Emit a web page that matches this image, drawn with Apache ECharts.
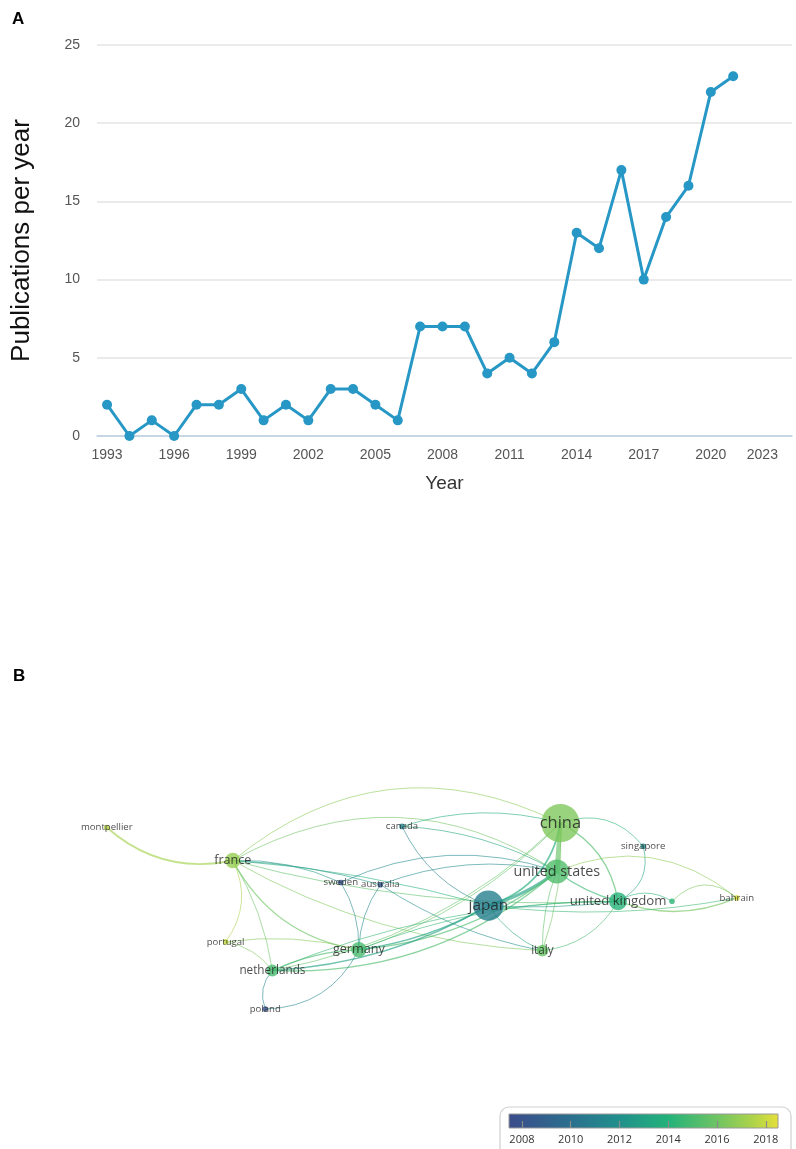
<!DOCTYPE html>
<html>
<head>
<meta charset="utf-8">
<script src="https://cdn.jsdelivr.net/npm/echarts@6/dist/echarts.min.js"></script>
<style>
  html, body { margin: 0; padding: 0; background: #ffffff; }
  #main { width: 796px; height: 1149px; }
</style>
</head>
<body>
<div id="main"></div>
<script>
// ---- Panel A: publications per year ----
const years = [1993, 1994, 1995, 1996, 1997, 1998, 1999, 2000, 2001, 2002, 2003, 2004, 2005, 2006, 2007,
               2008, 2009, 2010, 2011, 2012, 2013, 2014, 2015, 2016, 2017, 2018, 2019, 2020, 2021];
const publications = [2, 0, 1, 0, 2, 2, 3, 1, 2, 1, 3, 3, 2, 1, 7,
                      7, 7, 4, 5, 4, 6, 13, 12, 17, 10, 14, 16, 22, 23];
const yearTicks = [1993, 1996, 1999, 2002, 2005, 2008, 2011, 2014, 2017, 2020, 2023];

// ---- Panel B: country co-authorship network ----
const countries = ['montpellier', 'france', 'canada', 'china', 'singapore', 'united states', 'sweden',
                   'australia', 'japan', 'united kingdom', '', 'bahrain', 'portugal', 'germany',
                   'netherlands', 'italy', 'poland'];
const countryX = [-0.87, -0.52, -0.05, 0.39, 0.62, 0.38, -0.22, -0.11, 0.19, 0.55, 0.70, 0.88, -0.54, -0.17, -0.41, 0.34, -0.43];
const countryY = [0.75, 0.45, 0.76, 0.79, 0.58, 0.35, 0.25, 0.23, 0.04, 0.08, 0.08, 0.11, -0.29, -0.36, -0.55, -0.37, -0.90];
const countryDocs = [3, 14, 3, 40, 3, 24, 3, 3, 31, 17, 3, 3, 3, 14, 10, 10, 3];
const countryAvgYear = [2017.6, 2016.9, 2011.2, 2016.4, 2011.8, 2015.2, 2008.0, 2008.2, 2011.0, 2014.1, 2014.3, 2018.3, 2017.9, 2015.0, 2015.0, 2015.8, 2008.0];

const linkSource = ['montpellier', 'france', 'france', 'france', 'france', 'france', 'france', 'france', 'france', 'france', 'france',
                    'canada', 'canada', 'canada', 'sweden', 'australia', 'sweden', 'australia', 'australia',
                    'china', 'china', 'china', 'china', 'singapore', 'china', 'china', 'china',
                    'united states', 'united states', 'united states', 'united states', 'united states', 'united states',
                    'united kingdom', 'united kingdom', 'united kingdom', 'united kingdom', 'united kingdom', 'united kingdom', '',
                    'japan', 'japan', 'japan', 'japan', 'germany', 'netherlands', 'germany', 'portugal', 'portugal'];
const linkTarget = ['france', 'china', 'united states', 'japan', 'united kingdom', 'germany', 'netherlands', 'portugal', 'sweden', 'australia', 'italy',
                    'china', 'united states', 'japan', 'united states', 'united states', 'germany', 'germany', 'italy',
                    'united states', 'japan', 'united kingdom', 'singapore', 'united kingdom', 'germany', 'netherlands', 'italy',
                    'japan', 'united kingdom', 'bahrain', 'germany', 'netherlands', 'italy',
                    'bahrain', '', 'italy', 'germany', 'netherlands', 'japan', 'bahrain',
                    'germany', 'netherlands', 'italy', 'bahrain', 'netherlands', 'poland', 'poland', 'netherlands', 'germany'];
const linkStrength = [2, 1, 1, 1, 1, 1.5, 1, 1, 1, 1, 1,
                      1, 1, 1, 1, 1, 1, 1, 1,
                      5, 2, 1.5, 1, 1, 1, 1, 1,
                      3.5, 1.5, 1, 1.5, 1.5, 1,
                      1.5, 1, 1, 1, 1, 1, 1,
                      1.5, 1.5, 1, 1, 1.5, 1, 1, 1, 1];
const yearLegendTicks = [2008, 2010, 2012, 2014, 2016, 2018];

// how far each link bows away from a straight line
const linkBend = [-0.25, 0.32, 0.3, 0.05, -0.08, -0.25, 0.1, 0.3, 0.12, 0.06, -0.12,
                  0.15, 0.12, -0.2, 0.2, 0.15, 0.15, -0.15, -0.1,
                  0, 0.3, 0.25, 0.35, 0.4, 0.12, 0.15, 0.1,
                  0.1, -0.1, 0.3, 0.15, 0.2, -0.1,
                  -0.2, 0.3, 0.25, -0.1, -0.1, 0.05, 0.45,
                  0.1, 0.12, -0.15, -0.08, -0.1, -0.3, 0.3, 0.2, 0.1];

// viridis-like overlay colour scale
const scaleStops = [[2007.5, [59, 76, 139]], [2010, [43, 111, 142]], [2012, [33, 144, 140]],
                    [2014, [35, 178, 122]], [2016, [111, 196, 99]], [2017.5, [176, 212, 73]], [2018.5, [230, 224, 58]]];
function yearColor(y) {
  if (y <= scaleStops[0][0]) return 'rgb(' + scaleStops[0][1].join(',') + ')';
  for (let i = 1; i < scaleStops.length; i++) {
    if (y <= scaleStops[i][0]) {
      const a = scaleStops[i - 1], b = scaleStops[i];
      const t = (y - a[0]) / (b[0] - a[0]);
      const c = a[1].map((v, k) => Math.round(v + (b[1][k] - v) * t));
      return 'rgb(' + c.join(',') + ')';
    }
  }
  return 'rgb(' + scaleStops[scaleStops.length - 1][1].join(',') + ')';
}

const FONT = '"Liberation Sans", Arial, Helvetica, sans-serif';
const NET_FONT = '"Open Sans", "Noto Sans", sans-serif';

const nodes = countries.map((name, i) => ({
  name: name,
  value: [countryX[i], countryY[i]],
  symbolSize: 3 + countryDocs[i] * 0.88,
  itemStyle: { color: yearColor(countryAvgYear[i]), opacity: 0.8 },
  label: { show: name !== '', fontSize: 7 + Math.sqrt(countryDocs[i]) * 1.5 }
}));

const links = linkSource.map((s, i) => {
  const a = countries.indexOf(s), b = countries.indexOf(linkTarget[i]);
  return {
    source: a,
    target: b,
    lineStyle: {
      color: yearColor((countryAvgYear[a] + countryAvgYear[b]) / 2),
      width: linkStrength[i] * 0.9,
      curveness: linkBend[i],
      opacity: 0.65
    }
  };
});

const chart = echarts.init(document.getElementById('main'), null, { renderer: 'canvas' });

chart.setOption({
  backgroundColor: '#ffffff',
  animation: false,
  graphic: [
    { type: 'text', left: 12, top: 11, style: { text: 'A', font: 'bold 17px ' + FONT, fill: '#000' } },
    { type: 'text', left: 13, top: 668, style: { text: 'B', font: 'bold 17px ' + FONT, fill: '#000' } },
    { type: 'rect', shape: { x: 500, y: 1107, width: 291, height: 60, r: 9 },
      style: { fill: 'none', stroke: '#cfcfcf', lineWidth: 1.2 } }
  ],
  grid: [
    { left: 97, top: 45, width: 695, height: 391, containLabel: false, outerBoundsMode: 'none' },
    { left: 60, top: 800, width: 720, height: 220, containLabel: false, outerBoundsMode: 'none' },
    { left: 509, top: 1114, width: 269, height: 14, containLabel: false, outerBoundsMode: 'none' }
  ],
  xAxis: [
    {
      gridIndex: 0, type: 'value', min: 1992.55, max: 2023.63,
      name: 'Year', nameLocation: 'middle', nameGap: 38,
      nameTextStyle: { fontSize: 19, color: '#333', fontFamily: FONT },
      axisLine: { show: true, lineStyle: { color: '#bccfe2', width: 1.5 } },
      axisTick: { show: false },
      splitLine: { show: false },
      axisLabel: { customValues: yearTicks, formatter: v => String(v), alignMaxLabel: 'right',
                   fontSize: 14, color: '#555', fontFamily: FONT, margin: 12 }
    },
    { gridIndex: 1, type: 'value', min: -1, max: 1, show: false },
    {
      gridIndex: 2, type: 'value', min: 2007.47, max: 2018.5, z: 10,
      axisLine: { show: false },
      axisTick: { show: true, inside: true, length: 7, customValues: yearLegendTicks,
                  lineStyle: { color: '#8a8a8a', width: 1.2 } },
      axisLabel: { customValues: yearLegendTicks, formatter: v => String(v),
                   fontSize: 11, color: '#333', fontFamily: NET_FONT, margin: 6 },
      splitLine: { show: false }
    }
  ],
  yAxis: [
    {
      gridIndex: 0, type: 'value', min: 0, max: 25, interval: 5,
      name: 'Publications per year', nameLocation: 'middle', nameGap: 62,
      nameTextStyle: { fontSize: 26, color: '#111', fontFamily: FONT },
      axisLine: { show: false },
      axisTick: { show: false },
      axisLabel: { fontSize: 14, color: '#555', fontFamily: FONT, margin: 17 },
      splitLine: { show: true, lineStyle: { color: '#e4e4e4', width: 1.5 } }
    },
    { gridIndex: 1, type: 'value', min: -1, max: 1, show: false },
    { gridIndex: 2, type: 'value', min: 0, max: 1, show: false }
  ],
  series: [
    {
      type: 'line', xAxisIndex: 0, yAxisIndex: 0,
      data: years.map((y, i) => [y, publications[i]]),
      symbol: 'circle', symbolSize: 10,
      lineStyle: { color: '#2797c5', width: 3 },
      itemStyle: { color: '#2797c5' }
    },
    {
      type: 'graph', layout: 'none', coordinateSystem: 'cartesian2d',
      xAxisIndex: 1, yAxisIndex: 1,
      roam: false,
      data: nodes,
      links: links,
      label: { show: true, position: 'inside', color: '#1c1c1c', fontFamily: NET_FONT },
      emphasis: { disabled: true }
    },
    {
      type: 'custom', xAxisIndex: 2, yAxisIndex: 2,
      data: [[2007.47, 2018.5]],
      silent: true,
      z: 0,
      renderItem: function (params, api) {
        const p0 = api.coord([api.value(0), 1]);
        const p1 = api.coord([api.value(1), 0]);
        return {
          type: 'rect',
          shape: { x: p0[0], y: p0[1], width: p1[0] - p0[0], height: p1[1] - p0[1] },
          style: {
            fill: new echarts.graphic.LinearGradient(0, 0, 1, 0,
              scaleStops.map(s => ({
                offset: (s[0] - 2007.47) / (2018.5 - 2007.47),
                color: 'rgb(' + s[1].join(',') + ')'
              }))),
            stroke: '#9a9a9a', lineWidth: 1
          }
        };
      }
    }
  ]
});
</script>
</body>
</html>
